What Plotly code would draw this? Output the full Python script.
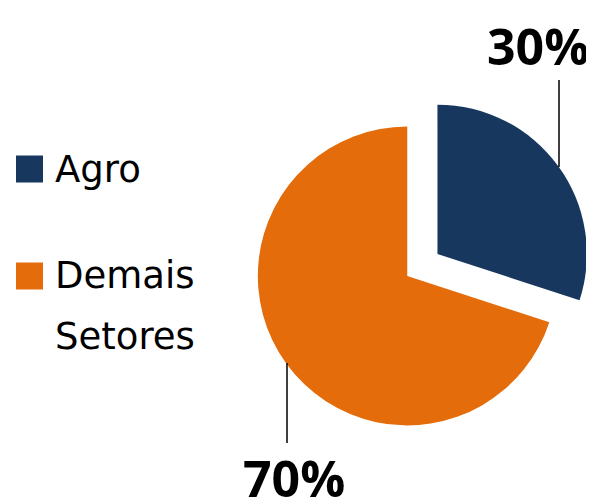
import plotly.graph_objects as go

labels = ["Agro", "Demais Setores"]
values = [30, 70]
colors = ["#17375E", "#E46C0A"]
pulls = [0.25, 0]

# page body has an 8px margin, so the figure is drawn 8px smaller
OFF = 8
W, H = 594 - OFF, 503 - OFF

def px(x):
    return (x - OFF) / W

def py(y):
    return (H - (y - OFF)) / H

# pie box in reference pixels: centre (408, 276), radius ~150, pull 0.25
cx, cy, half = 408, 276, 150 * 1.25

fig = go.Figure()
fig.add_trace(go.Pie(
    labels=labels, values=values, sort=False, direction="clockwise", rotation=0,
    pull=pulls, marker=dict(colors=colors, line=dict(width=0)),
    textinfo="none", showlegend=False,
    domain=dict(x=[max(0, px(cx - half)), min(1, px(cx + half))],
                y=[max(0, py(cy + half)), min(1, py(cy - half))]),
))

total = sum(values)
pcts = [f"{round(v / total * 100)}%" for v in values]

annotations = []
shapes = []

# percentage labels with leader lines
label_pos = [((538, 46), (559, 80, 167)), ((294, 478), (287, 363, 443))]
for txt, ((tx, ty), (lx, ly0, ly1)) in zip(pcts, label_pos):
    annotations.append(dict(
        x=px(tx), y=py(ty), xref="paper", yref="paper", text=f"<b>{txt}</b>",
        showarrow=False, xanchor="center", yanchor="middle",
        font=dict(family="Open Sans", size=50, color="#000000"),
    ))
    shapes.append(dict(type="line", xref="paper", yref="paper",
                       x0=px(lx), x1=px(lx), y0=py(ly0), y1=py(ly1),
                       line=dict(color="#000000", width=1.5)))

# manual legend
legend_rows = [169, 276]
for lab, col, ycen in zip(labels, colors, legend_rows):
    shapes.append(dict(type="rect", xref="paper", yref="paper",
                       x0=px(16), x1=px(43), y0=py(ycen - 13.5), y1=py(ycen + 13.5),
                       fillcolor=col, line=dict(width=0)))
    for i, word in enumerate(lab.split(" ")):
        annotations.append(dict(
            x=px(53), y=py(ycen + 60 * i), xref="paper", yref="paper", text=word,
            showarrow=False, xanchor="left", yanchor="middle",
            font=dict(family="DejaVu Sans", size=37, color="#000000"),
        ))

fig.update_layout(
    width=W, height=H, margin=dict(l=0, r=0, t=0, b=0),
    paper_bgcolor="white", plot_bgcolor="white",
    annotations=annotations, shapes=shapes, showlegend=False,
)

fig.write_html("out.html")
